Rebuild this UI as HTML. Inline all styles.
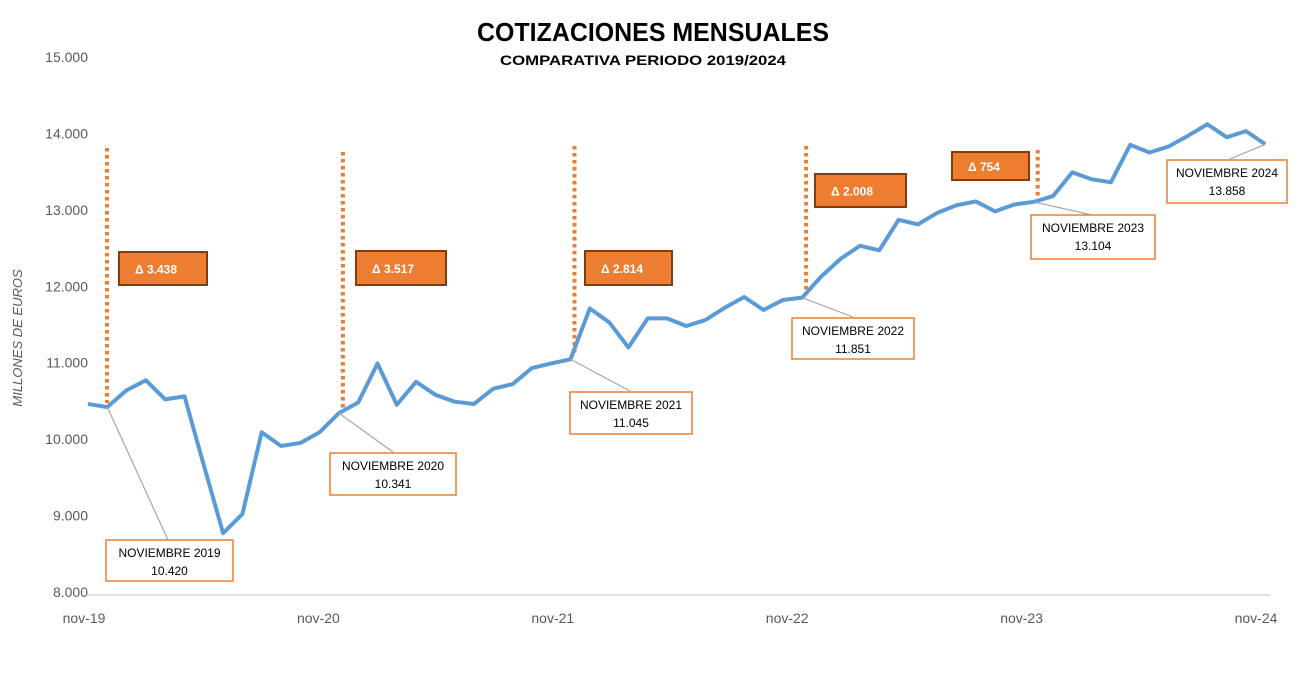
<!DOCTYPE html>
<html><head><meta charset="utf-8"><style>
body{margin:0;background:#fff;font-family:"Liberation Sans",sans-serif}
svg text{font-family:"Liberation Sans",sans-serif}
</style></head><body>
<svg id="chart" width="1300" height="672">
<text x="653" y="41" text-anchor="middle" font-size="26" font-weight="bold" fill="#000" textLength="352" lengthAdjust="spacingAndGlyphs">COTIZACIONES MENSUALES</text>
<text x="643" y="65" text-anchor="middle" font-size="14" font-weight="bold" fill="#000" textLength="286" lengthAdjust="spacingAndGlyphs">COMPARATIVA PERIODO 2019/2024</text>
<text transform="translate(22,338) rotate(-90)" text-anchor="middle" font-size="13" font-style="italic" fill="#595959">MILLONES DE EUROS</text>
<g id="yaxis"></g>
<g id="xaxis"></g>
<g id="annos"></g>
<g id="series"></g>
<g id="labels"></g>
</svg>
<script>
const values=[10460,10420,10640,10770,10520,10560,9660,8770,9020,10090,9910,9950,10090,10341,10480,10990,10450,10750,10580,10490,10460,10660,10720,10930,10990,11045,11710,11530,11200,11580,11580,11480,11560,11720,11860,11690,11820,11851,12130,12360,12530,12470,12870,12810,12960,13060,13110,12980,13070,13104,13180,13490,13400,13360,13850,13750,13830,13970,14120,13950,14030,13858];
const yTicks=[8000,9000,10000,11000,12000,13000,14000,15000];
const yTickLabels=["8.000","9.000","10.000","11.000","12.000","13.000","14.000","15.000"];
const xLabels=["nov-19","nov-20","nov-21","nov-22","nov-23","nov-24"];
const novIdx=[1,13,25,37,49,61];
const novTitles=["NOVIEMBRE 2019","NOVIEMBRE 2020","NOVIEMBRE 2021","NOVIEMBRE 2022","NOVIEMBRE 2023","NOVIEMBRE 2024"];
const novValues=["10.420","10.341","11.045","11.851","13.104","13.858"];
const deltas=["Δ  3.438","Δ 3.517","Δ 2.814","Δ 2.008","Δ 754"];

const NS="http://www.w3.org/2000/svg";
function x(i){return 88+i*19.3;}
function y(v){return 592-(v-8000)/1000*76.43;}
function mk(tag,attrs,parent,txt){const e=document.createElementNS(NS,tag);for(const k in attrs)e.setAttribute(k,attrs[k]);if(txt!==undefined)e.textContent=txt;parent.appendChild(e);return e;}
const yg=document.getElementById('yaxis'),xg=document.getElementById('xaxis'),ag=document.getElementById('annos'),sg=document.getElementById('series'),lg=document.getElementById('labels');
yTicks.forEach((t,i)=>{const e=mk('text',{x:88,y:y(t)+5,'text-anchor':'end','font-size':14,fill:'#595959'},yg,yTickLabels[i]);

});
const ax=mk('line',{x1:84,x2:1270,y1:595,y2:595,stroke:'#bfbfbf','stroke-width':1},xg);


xLabels.forEach((l,k)=>{const e=mk('text',{x:84+234.4*k,y:623,'text-anchor':'middle','font-size':14,fill:'#595959'},xg,l);

});
const dTops=[148,152,146,146,150];
const dBoxes=[[119,252,88,33],[356,251,90,34],[585,251,87,34],[815,174,91,33],[952,152,77,28]];
for(let k=0;k<5;k++){const i=novIdx[k];const xx=k==0?107:x(i)+4;
const dl=mk('line',{x1:xx,x2:xx,y1:dTops[k],y2:y(values[i])-4,stroke:'#ED7D31','stroke-width':4,'stroke-dasharray':'3.5,3.5'},ag);


const b=dBoxes[k];
const r=mk('rect',{x:b[0],y:b[1],width:b[2],height:b[3],fill:'#ED7D31',stroke:'#843C0C','stroke-width':2},ag);


const t=mk('text',{x:b[0]+16,y:b[1]+b[3]/2+5,'font-size':12,'font-weight':'bold',fill:'#fff'},ag,deltas[k]);

}
const p=mk('polyline',{points:values.map((v,i)=>x(i)+','+y(v)).join(' '),fill:'none',stroke:'#5B9BD5','stroke-width':4,'stroke-linejoin':'round'},sg);


const boxes=[[106,540,127,41],[330,453,126,42],[570,392,122,42],[792,318,122,41],[1031,215,124,44],[1167,160,120,43]];
const anchors=[[168,540],[393,452],[630,391],[853,317],[1092,215],[1230,159]];
novIdx.forEach((i,k)=>{const px=x(i),py=y(values[i]);
const l=mk('line',{x1:px,y1:py,x2:anchors[k][0],y2:anchors[k][1],stroke:'#a6a6a6','stroke-width':1.2},lg);


const b=boxes[k];
const r=mk('rect',{x:b[0],y:b[1],width:b[2],height:b[3],fill:'#fff',stroke:'#ED7D31','stroke-width':1.5},lg);


const t1=mk('text',{x:b[0]+b[2]/2,y:b[1]+17,'text-anchor':'middle','font-size':12,fill:'#000'},lg,novTitles[k]);


const t2=mk('text',{x:b[0]+b[2]/2,y:b[1]+35,'text-anchor':'middle','font-size':12,fill:'#000'},lg,novValues[k]);

});
</script>
</body></html>
